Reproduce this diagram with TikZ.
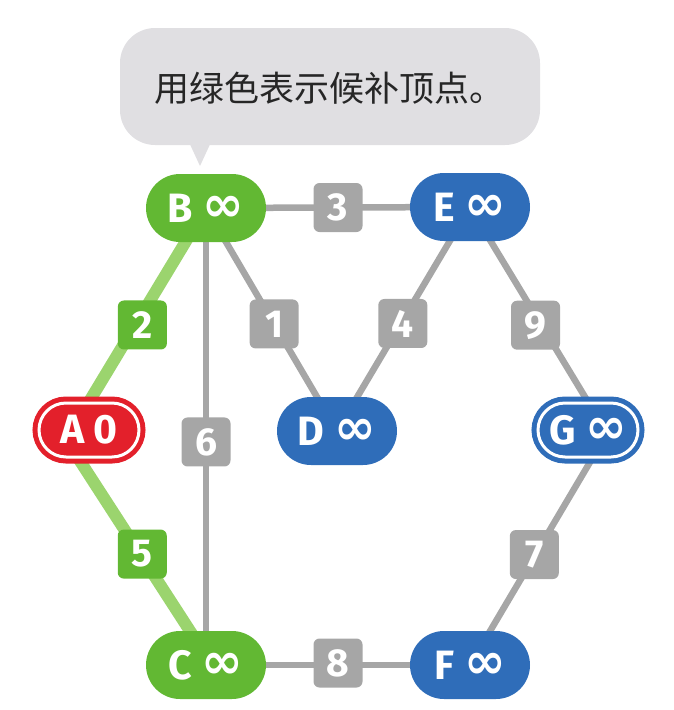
\documentclass[tikz,border=0pt]{standalone}
\usepackage{fontspec}
\setmainfont{Fira Sans}
\newfontfamily\cjkfont{Noto Sans CJK SC}
\newfontfamily\symfont{DejaVu Sans}
\usetikzlibrary{shapes.misc,backgrounds}
\definecolor{ngreen}{HTML}{62B833}
\definecolor{lgreen}{HTML}{9BD46E}
\definecolor{nblue}{HTML}{2F6DB9}
\definecolor{nred}{HTML}{E3202B}
\definecolor{egray}{HTML}{A6A6A6}
\definecolor{bubblegray}{HTML}{E0DFE2}
\newcommand{\inftysym}{{\symfont\fontsize{50}{50}\selectfont\raisebox{1pt}{∞}}}
\tikzset{
  pill/.style={rounded rectangle, minimum width=120pt, minimum height=68pt, inner sep=0pt,
    text=white, font=\bfseries\fontsize{41}{41}\selectfont},
  greennode/.style={pill, fill=ngreen},
  bluenode/.style={pill, fill=nblue},
  ringnode/.style={rounded rectangle, minimum width=100pt, minimum height=54pt, inner sep=0pt,
    text=white, font=\bfseries\fontsize{41}{41}\selectfont,
    fill=#1, draw=#1, line width=5pt, double=white, double distance=3pt},
  wbox/.style={rectangle, rounded corners=6pt, minimum size=49pt, inner sep=0pt,
    fill=#1, text=white, font=\bfseries\fontsize{39}{39}\selectfont},
  wbox/.default=egray,
  grayedge/.style={draw=egray, line width=6.5pt},
  greenedge/.style={draw=lgreen, line width=12pt},
}
\begin{document}
\begin{tikzpicture}[x=1pt,y=-1pt]
\useasboundingbox (0,0) rectangle (674,710);
% speech bubble
\fill[bubblegray, rounded corners=35pt] (120,28) rectangle (540,145);
\fill[bubblegray] (188,140) -- (212,140) -- (200,166) -- cycle;
\node[font=\cjkfont\fontsize{35}{35}\selectfont, text=black!85] (msg) at (329,88) {用绿色表示候补顶点。};
% vertices
\node[greennode] (B) at (206,208) {B \inftysym};
\node[bluenode] (E) at (470,207) {E \inftysym};
\node[bluenode] (D) at (337,431) {D \inftysym};
\node[greennode] (C) at (206,665) {C \inftysym};
\node[bluenode] (F) at (470,665) {F \inftysym};
\node[ringnode=nred] (A) at (89,430) {A 0};
\node[ringnode=nblue] (G) at (588,430) {G \inftysym};
\coordinate (aB) at (72,430);
\coordinate (aC) at (60,430);
\coordinate (gE) at (605,430);
\coordinate (gF) at (609,430);
\coordinate (cA) at (212,665);
\begin{pgfonlayer}{background}
\draw[grayedge] (B.center) -- (E.center) node[wbox, midway] (l3) {3};
\draw[grayedge] (B.center) -- (D.center) node[wbox, pos=0.52] (l1) {1};
\draw[grayedge] (E.center) -- (D.center) node[wbox, pos=0.52, xshift=2pt] (l4) {4};
\draw[grayedge] (E.center) -- (gE) node[wbox, pos=0.53, xshift=-6pt] (l9) {9};
\draw[grayedge] (B.center) -- (C.center) node[wbox, pos=0.512] (l6) {6};
\draw[grayedge] (C.center) -- (F.center) node[wbox, midway, yshift=2pt] (l8) {8};
\draw[grayedge] (gF) -- (F.center) node[wbox, pos=0.53, xshift=-1pt] (l7) {7};
\draw[greenedge] (aB) -- (B.center) node[wbox=ngreen, pos=0.473, xshift=7pt] (l2) {2};
\draw[greenedge] (aC) -- (cA) node[wbox=ngreen, pos=0.528, xshift=2pt] (l5) {5};
\end{pgfonlayer}
\end{tikzpicture}
\end{document}
